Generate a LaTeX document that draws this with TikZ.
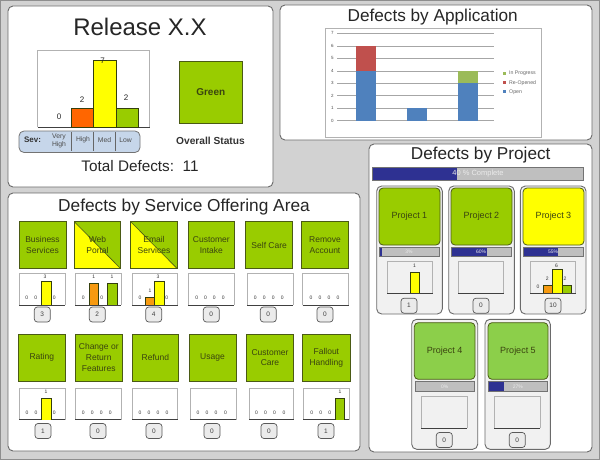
\documentclass[tikz,border=0pt]{standalone}
\usepackage{fontspec}
\setmainfont{Liberation Sans}
\definecolor{bggray}{HTML}{D2D2D2}
\definecolor{edgegray}{HTML}{8E8E8E}
\definecolor{panelline}{HTML}{6A6A6A}
\definecolor{lime}{HTML}{99CC00}
\definecolor{limeb}{HTML}{8CCF4A}
\definecolor{sun}{HTML}{FFFF00}
\definecolor{tang}{HTML}{FF6600}
\definecolor{amber}{HTML}{F79A10}
\definecolor{olive}{HTML}{4A5A14}
\definecolor{tiletext}{HTML}{3A4410}
\definecolor{navy}{HTML}{2E3192}
\definecolor{bargray}{HTML}{BFBFBF}
\definecolor{cardgray}{HTML}{F1F1F1}
\definecolor{sevblue}{HTML}{C6D6EA}
\definecolor{xlblue}{HTML}{4F81BD}
\definecolor{xlred}{HTML}{C0504D}
\definecolor{xlgreen}{HTML}{9BBB59}
\tikzset{
  panel/.style={draw=panelline,fill=white,line width=.9pt,rounded corners=5pt},
  card/.style={draw=panelline,fill=cardgray,line width=.9pt,rounded corners=5pt},
  tilebox/.style={draw=olive,line width=.8pt},
  ptile/.style={draw=olive,line width=.8pt,rounded corners=4pt},
  tilelab/.style={font=\fontsize{8.5}{10.8}\selectfont,text=tiletext,align=center,inner sep=0pt},
  title/.style={text=black!85,inner sep=0pt},
  chartbox/.style={draw=black!30,line width=.7pt},
  chartbase/.style={draw=black!75,line width=.8pt},
  barsty/.style={draw=olive!70!black,line width=.6pt},
  vallab/.style={font=\fontsize{5}{5}\selectfont,text=black!80,inner sep=0pt},
  pillbox/.style={draw=black!65,fill=black!8,line width=.7pt,rounded corners=3pt,minimum width=16pt,minimum height=15pt,inner sep=0pt,font=\fontsize{6.5}{6.5}\selectfont,text=black!75},
  pctlab/.style={font=\fontsize{5}{5}\selectfont,text=white!92!black,inner sep=0pt},
}
% tile: name x1 y1 x2 y2 fill text
\newcommand{\stile}[7]{\draw[tilebox,fill=#6] (#2,#3) rectangle node[tilelab] (#1) {#7} (#4,#5);}
% diagonal tile, yellow lower-left, green upper-right
\newcommand{\dtile}[6]{%
  \fill[sun] (#2,#3) -- (#4,#5) -- (#2,#5) -- cycle;
  \fill[lime] (#2,#3) -- (#4,#3) -- (#4,#5) -- cycle;
  \draw[olive,line width=.6pt] (#2,#3) -- (#4,#5);
  \draw[tilebox] (#2,#3) rectangle node[tilelab] (#1) {#6} (#4,#5);}
\newcommand{\ptl}[7]{\draw[ptile,fill=#6] (#2,#3) rectangle node[tilelab,font=\fontsize{9}{11}\selectfont] (#1) {#7} (#4,#5);}
\newcommand{\mchart}[4]{%
  \draw[chartbox] (#1,#4) -- (#1,#2) -- (#3,#2) -- (#3,#4);
  \draw[chartbase] (#1,#4) -- (#3,#4);}
\newcommand{\mbar}[5]{\draw[barsty,fill=#5] (#1,#4) -- (#1,#2) -- (#3,#2) -- (#3,#4);}
\newcommand{\val}[3]{\node[vallab] at (#1,#2) {#3};}
\newcommand{\zeros}[5]{\val{#1}{#5}{0}\val{#2}{#5}{0}\val{#3}{#5}{0}\val{#4}{#5}{0}}
\newcommand{\pillnode}[4]{\node[pillbox] (#1) at (#2,#3) {#4};}
% progress bar x1 y1 x2 y2 xfill label
\newcommand{\prog}[6]{%
  \fill[bargray] (#1,#2) rectangle (#3,#4);
  \fill[navy] (#1,#2) rectangle (#5,#4);
  \draw[black!55,line width=.5pt] (#1,#2) rectangle (#3,#4);
  \path (#1,#2) rectangle node[pctlab] {#6} (#3,#4);}
\begin{document}
\begin{tikzpicture}[x=1pt,y=-1pt]
\useasboundingbox (0,0) rectangle (600,460);
\fill[bggray] (0,0) rectangle (600,460);
\draw[edgegray,line width=2pt] (0,0) rectangle (600,460);
% ---------- panels
\draw[panel] (8,6) rectangle (273,187);
\draw[panel] (280,5) rectangle (592,140);
\draw[panel] (369,144) rectangle (592,452);
\draw[panel] (8,193) rectangle (360,451);
% ---------- Release panel
\node[title,font=\fontsize{24}{24}\selectfont] (release) at (140,27) {Release X.X};
\mchart{37.5}{50.5}{149.5}{127}
\draw[barsty,fill=tang] (71,127) rectangle (93,108);
\draw[barsty,fill=sun] (93,127) rectangle (116,60);
\draw[barsty,fill=lime] (116,127) rectangle (138,108);
\tikzset{relval/.style={font=\fontsize{8}{8}\selectfont,text=black!85,inner sep=0pt}}
\node[relval] at (59,116.5) {0};
\node[relval] at (82,100) {2};
\node[relval] at (102.5,60.5) {7};
\node[relval] at (126,98) {2};
\draw[draw=black!55,fill=sevblue,line width=.8pt,rounded corners=5pt] (19,131) rectangle (140,152.5);
\foreach \sx in {71,93.5,115.5} {\draw[black!60,line width=.7pt] (\sx,132) -- (\sx,151);}
\node[font=\bfseries\fontsize{8}{8}\selectfont,text=black!80,inner sep=0pt] (sev) at (32.5,140) {Sev:};
\tikzset{sevlab/.style={font=\fontsize{6.8}{8}\selectfont,text=black!70,align=center,inner sep=0pt}}
\node[sevlab] (vh) at (59,140.5) {Very\\High};
\node[sevlab] (hi) at (83,140) {High};
\node[sevlab] (me) at (104.5,140) {Med};
\node[sevlab] (lo) at (125.5,140) {Low};
\draw[tilebox,fill=lime] (179.5,61) rectangle node[font=\bfseries\fontsize{10}{10}\selectfont,text=tiletext,inner sep=0pt] (green) {Green} (242,123.5);
\node[font=\bfseries\fontsize{10.2}{10}\selectfont,text=black!80,inner sep=0pt] (overall) at (210.5,140.5) {Overall Status};
\node[title,font=\fontsize{15.3}{16}\selectfont] (total) at (140,166) {Total Defects:\ \ 11};
% ---------- Defects by Application
\node[title,font=\fontsize{17.2}{18}\selectfont] (app) at (432.7,17) {Defects by Application};
\draw[chartbox,fill=white] (325.3,28.3) rectangle (541.7,137.3);
\foreach \gy/\gl in {120.7/0,108.2/1,95.7/2,83.2/3,70.8/4,58.3/5,45.8/6,33.3/7} {
  \draw[black!35,line width=.5pt] (337,\gy) -- (494,\gy);
  \node[font=\fontsize{4.5}{5}\selectfont,text=black!70,inner sep=0pt] at (332.3,\gy) {\gl};}
\fill[xlblue] (356,120.7) rectangle (376,70.8);
\fill[xlred] (356,70.8) rectangle (376,45.8);
\fill[xlblue] (407,120.7) rectangle (427.3,108.2);
\fill[xlblue] (458.3,120.7) rectangle (478.3,83.2);
\fill[xlgreen] (458.3,83.2) rectangle (478.3,70.8);
\fill[xlgreen] (503.2,72.2) rectangle (506.2,75.2);
\fill[xlred] (503.2,81.2) rectangle (506.2,84.2);
\fill[xlblue] (503.2,90.5) rectangle (506.2,93.5);
\tikzset{leg/.style={font=\fontsize{5.2}{5.5}\selectfont,text=black!60,inner sep=0pt,anchor=west}}
\node[leg] at (509,73.7) {In Progress};
\node[leg] at (509,82.7) {Re-Opened};
\node[leg] at (509,92) {Open};
% ---------- Defects by Project
\node[title,font=\fontsize{17.2}{18}\selectfont] (proj) at (480.7,154.7) {Defects by Project};
\prog{372.7}{167.3}{583.3}{180}{456.7}{\fontsize{7.5}{8}\selectfont 40 \% Complete}
% cards
\draw[card] (376.7,186) rectangle (442.3,314);
\draw[card] (448.7,186) rectangle (514.3,314);
\draw[card] (520.3,186) rectangle (586,314);
\draw[card] (411.7,319.3) rectangle (477.7,449.3);
\draw[card] (485,319.3) rectangle (550.3,449.3);
\ptl{p1}{379}{188}{440}{245}{lime}{Project 1}
\ptl{p2}{451}{188}{512}{245}{lime}{Project 2}
\ptl{p3}{523}{188}{584}{245}{sun}{Project 3}
\ptl{p4}{414.3}{322.7}{475}{379.3}{limeb}{Project 4}
\ptl{p5}{488}{322.7}{548}{379.3}{limeb}{Project 5}
\prog{379}{247}{439}{256.5}{382}{3\%}
\prog{451}{247}{511}{256.5}{487}{60\%}
\prog{523}{247}{583}{256.5}{557.7}{55\%}
\prog{415}{381.7}{474.5}{391}{415}{0\%}
\prog{488}{381.7}{547.5}{391}{504}{27\%}
\mchart{387.3}{261.3}{432.7}{293.3}
\mchart{458}{261.3}{503.7}{293.3}
\mchart{530.3}{261.3}{575.7}{293.3}
\mchart{421}{396.3}{467}{428}
\mchart{494}{396.3}{540}{428}
\mbar{410}{272}{419.3}{293.3}{sun}
\val{414.5}{266}{1}
\mbar{543.7}{285.3}{552.7}{293.3}{amber}
\mbar{552.7}{269.3}{562.3}{293.3}{sun}
\mbar{562.3}{285.3}{571}{293.3}{lime}
\val{538}{286.7}{0}
\val{547.3}{279}{2}
\val{556.5}{266}{6}
\val{565}{279}{2}
\pillnode{c1}{409}{305.7}{1}
\pillnode{c2}{481}{305.7}{0}
\pillnode{c3}{553}{305.7}{10}
\pillnode{c4}{444.3}{440}{0}
\pillnode{c5}{517.3}{440}{0}
% ---------- Defects by Service Offering Area
\node[title,font=\fontsize{17.3}{18}\selectfont] (svc) at (184,206.7) {Defects by Service Offering Area};
\stile{s1}{19}{221.7}{66}{268.7}{lime}{Business\\Services}
\dtile{s2}{74.3}{221.7}{120.7}{268.7}{Web\\Portal}
\dtile{s3}{130.7}{221.7}{177.3}{268.7}{Email\\Services}
\stile{s4}{188}{221.7}{234.7}{268.7}{lime}{Customer\\Intake}
\stile{s5}{245.7}{221.7}{292.7}{268.7}{lime}{Self Care}
\stile{s6}{301.3}{221.7}{348.7}{268.7}{lime}{Remove\\Account}
\stile{s7}{18.3}{334.3}{65.3}{381}{lime}{Rating}
\stile{s8}{75}{334.3}{122.5}{381}{lime}{Change or\\Return\\Features}
\stile{s9}{132}{334.3}{178.7}{381}{lime}{Refund}
\stile{s10}{189}{334.3}{236}{381}{lime}{Usage}
\stile{s11}{246.7}{334.3}{293.3}{381}{lime}{Customer\\Care}
\stile{s12}{302.7}{334.3}{350}{381}{lime}{Fallout\\Handling}
% row 1 charts
\mchart{19.3}{273.3}{65}{305}
\mchart{75.3}{273.3}{121.3}{305}
\mchart{132}{273.3}{177.7}{305}
\mchart{188}{273.3}{234.3}{305}
\mchart{247.3}{273.3}{293}{305}
\mchart{302.7}{273.3}{348.7}{305}
\mbar{41.7}{281.3}{51.7}{305}{sun}
\val{45}{277}{3}\val{26.7}{298}{0}\val{35.7}{298}{0}\val{54.3}{298}{0}
\mbar{89.3}{283.7}{98.7}{305}{amber}
\mbar{107.3}{283.7}{117}{305}{lime}
\val{93.7}{277}{1}\val{112}{277}{1}\val{83.3}{298}{0}\val{101.7}{298}{0}
\mbar{145.3}{297.3}{154.7}{305}{amber}
\mbar{154.7}{281.3}{164}{305}{sun}
\val{150}{291}{1}\val{158}{277}{3}\val{140}{298}{0}\val{166.7}{298}{0}
\zeros{196.7}{205.5}{214.3}{223.3}{298}
\zeros{255.3}{264.3}{273.3}{282.3}{298}
\zeros{311}{320}{329}{338}{298}
% row 2 charts
\mchart{19.3}{388.3}{65}{419.7}
\mchart{75.3}{388.3}{121.3}{419.7}
\mchart{132}{388.3}{177.7}{419.7}
\mchart{190.3}{388.3}{236}{419.7}
\mchart{249}{388.3}{293.7}{419.7}
\mchart{303.3}{388.3}{349}{419.7}
\mbar{41.7}{398.3}{51.3}{419.7}{sun}
\val{46}{392}{1}\val{27}{412.3}{0}\val{36}{412.3}{0}\val{54.3}{412.3}{0}
\zeros{83.3}{92.3}{101.3}{110.3}{412.3}
\zeros{140}{149}{158}{167}{412.3}
\zeros{198}{207}{216}{225.5}{412.3}
\zeros{256.5}{265.5}{274.5}{284}{412.3}
\mbar{335.3}{398.3}{344.7}{419.7}{lime}
\val{340}{392}{1}\val{311.7}{412.3}{0}\val{320.7}{412.3}{0}\val{329.7}{412.3}{0}
% counts
\pillnode{n1}{42.3}{314.5}{3}
\pillnode{n2}{97.3}{314.5}{2}
\pillnode{n3}{153.7}{314.5}{4}
\pillnode{n4}{211.3}{314.5}{0}
\pillnode{n5}{268.3}{314.5}{0}
\pillnode{n6}{325}{314.5}{0}
\pillnode{n7}{43}{431}{1}
\pillnode{n8}{98}{431}{0}
\pillnode{n9}{154}{431}{0}
\pillnode{n10}{212}{431}{0}
\pillnode{n11}{269}{431}{0}
\pillnode{n12}{326}{431}{1}
\end{tikzpicture}
\end{document}
